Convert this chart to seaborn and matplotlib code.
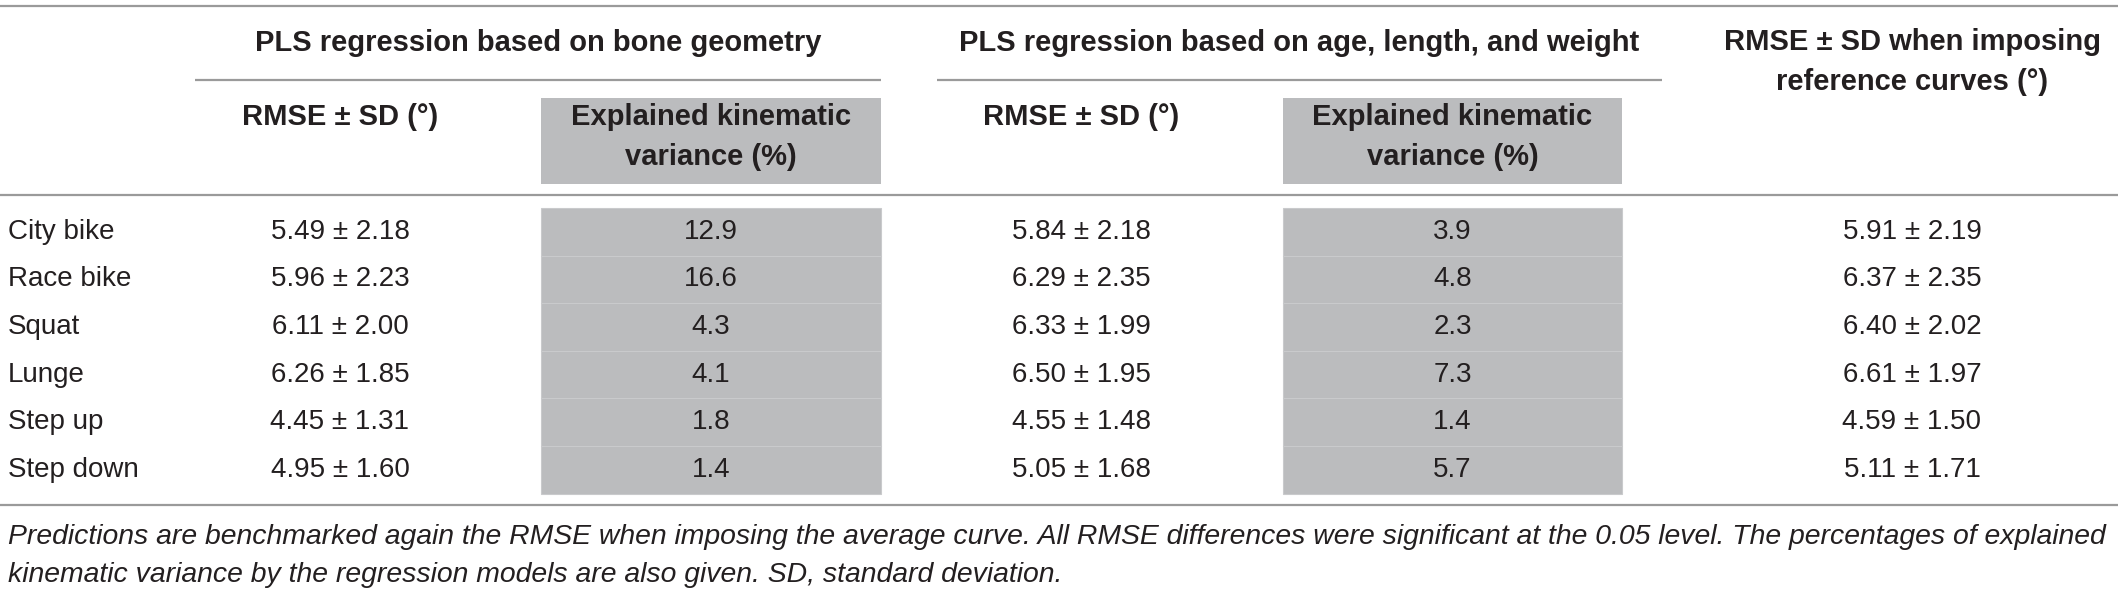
import matplotlib
matplotlib.use("Agg")
import matplotlib.pyplot as plt
import seaborn as sns

# table data
tasks = ["City bike", "Race bike", "Squat", "Lunge", "Step up", "Step down"]
rmse_bone = [5.49, 5.96, 6.11, 6.26, 4.45, 4.95]
sd_bone = [2.18, 2.23, 2.00, 1.85, 1.31, 1.60]
var_bone = [12.9, 16.6, 4.3, 4.1, 1.8, 1.4]
rmse_alw = [5.84, 6.29, 6.33, 6.50, 4.55, 5.05]
sd_alw = [2.18, 2.35, 1.99, 1.95, 1.48, 1.68]
var_alw = [3.9, 4.8, 2.3, 7.3, 1.4, 5.7]
rmse_ref = [5.91, 6.37, 6.40, 6.61, 4.59, 5.11]
sd_ref = [2.19, 2.35, 2.02, 1.97, 1.50, 1.71]

group_titles = ["PLS regression based on bone geometry",
                "PLS regression based on age, length, and weight"]
ref_title = "RMSE \u00b1 SD when imposing\nreference curves (\u00b0)"
rmse_title = "RMSE \u00b1 SD (\u00b0)"
var_title = "Explained kinematic\nvariance (%)"
footnote = ("Predictions are benchmarked again the RMSE when imposing the average curve. "
            "All RMSE differences were significant at the 0.05 level. The percentages of explained\n"
            "kinematic variance by the regression models are also given. SD, standard deviation.")

sns.set_theme(style="white")
plt.rcParams["font.family"] = ["Liberation Sans", "DejaVu Sans"]

W, H = 2118, 589
fig = plt.figure(figsize=(W / 100, H / 100), dpi=100)
ax = fig.add_axes([0, 0, 1, 1])
ax.set_xlim(0, W)
ax.set_ylim(H, 0)
ax.axis("off")

txt = "#231f20"
line_c = "#9a9a9a"
gray = "#bbbcbe"
fs = 20
fs_b = 21
fs_note = 20.4

# column layout (pixels)
label_x = 8
rmse1_x, var1_l, var1_r = 340, 541, 881
rmse2_x, var2_l, var2_r = 1081, 1283, 1622
ref_x = 1912
cell_top, row_h = 208, 47.6

def hline(y, x0=0, x1=W):
    ax.plot([x0, x1], [y, y], color=line_c, lw=1.6, solid_capstyle="butt")

hline(6)
hline(80, 195, 881)
hline(80, 937, 1662)
hline(195)
hline(505)

# group headers
ax.text((195 + 881) / 2, 43, group_titles[0], ha="center", va="center",
        fontsize=fs_b, fontweight="bold", color=txt)
ax.text((937 + 1662) / 2, 43, group_titles[1], ha="center", va="center",
        fontsize=fs_b, fontweight="bold", color=txt)
ax.text(ref_x, 62, ref_title, ha="center", va="center", fontsize=fs_b,
        fontweight="bold", color=txt, linespacing=1.55)

# sub headers with shaded variance columns
for cx, l, r in [(rmse1_x, var1_l, var1_r), (rmse2_x, var2_l, var2_r)]:
    ax.text(cx, 117, rmse_title, ha="center", va="center", fontsize=fs_b,
            fontweight="bold", color=txt)
    ax.bar((l + r) / 2, 86, bottom=98, width=r - l, color=gray, lw=0)
    ax.text((l + r) / 2, 137, var_title, ha="center", va="center", fontsize=fs_b,
            fontweight="bold", color=txt, linespacing=1.55)

# body rows
n = len(tasks)
ys = [cell_top + (i + 0.5) * row_h for i in range(n)]
for l, r in [(var1_l, var1_r), (var2_l, var2_r)]:
    ax.bar([(l + r) / 2] * n, [row_h] * n,
           bottom=[cell_top + i * row_h for i in range(n)], width=r - l,
           color=gray, edgecolor="#c9cacc", lw=0.8)

for i, y in enumerate(ys):
    ax.text(label_x, y, tasks[i], ha="left", va="center", fontsize=fs, color=txt)
    ax.text(rmse1_x, y, f"{rmse_bone[i]:.2f} \u00b1 {sd_bone[i]:.2f}",
            ha="center", va="center", fontsize=fs, color=txt)
    ax.text((var1_l + var1_r) / 2, y, f"{var_bone[i]:.1f}",
            ha="center", va="center", fontsize=fs, color=txt)
    ax.text(rmse2_x, y, f"{rmse_alw[i]:.2f} \u00b1 {sd_alw[i]:.2f}",
            ha="center", va="center", fontsize=fs, color=txt)
    ax.text((var2_l + var2_r) / 2, y, f"{var_alw[i]:.1f}",
            ha="center", va="center", fontsize=fs, color=txt)
    ax.text(ref_x, y, f"{rmse_ref[i]:.2f} \u00b1 {sd_ref[i]:.2f}",
            ha="center", va="center", fontsize=fs, color=txt)

ax.text(label_x, 556, footnote, ha="left", va="center", fontsize=fs_note,
        style="italic", color=txt, linespacing=1.55)

fig.savefig("out.png", dpi=100)
